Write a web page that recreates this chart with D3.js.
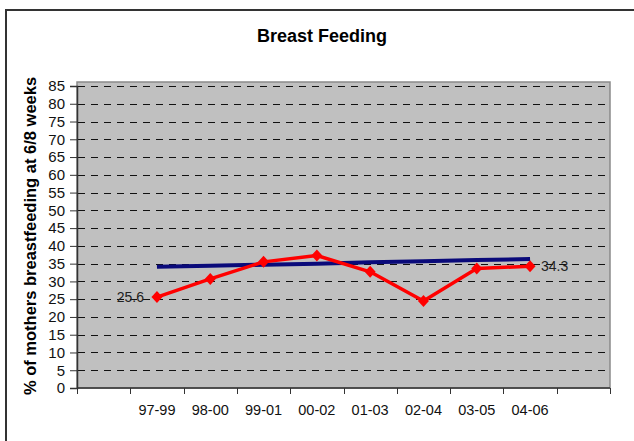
<!DOCTYPE html>
<html><head><meta charset="utf-8">
<script src="https://cdn.jsdelivr.net/npm/d3@7"></script>
<style>html,body{margin:0;padding:0;background:#fff;}svg{display:block;font-family:"Liberation Sans",Arial,sans-serif;}</style>
</head><body>
<script>
const categories = ["", "97-99", "98-00", "99-01", "00-02", "01-03", "02-04", "03-05", "04-06", ""];
const breastfeeding = [null, 25.6, 30.7, 35.5, 37.3, 32.7, 24.5, 33.6, 34.3, null];
const target = [null, 34.1, 34.4, 34.7, 35.0, 35.4, 35.7, 36.0, 36.3, null];
const yTicks = d3.range(0, 90, 5);
const title = "Breast Feeding";
const yTitle = "% of mothers breastfeeding at 6/8 weeks";
const labelIdx = [1, 8];

const W = 634, H = 441;
const svg = d3.select("body").append("svg").attr("width", W).attr("height", H);

// outer chart border
svg.append("rect").attr("x", 6).attr("y", 10).attr("width", W + 10).attr("height", H + 10)
  .attr("fill", "#fff").attr("stroke", "#333").attr("stroke-width", 2);

const x = d3.scaleBand().domain(d3.range(categories.length)).range([77, 610]);
const y = d3.scaleLinear().domain([0, 85]).range([388, 86]);

// plot area
svg.append("rect").attr("x", 77).attr("y", y(85) - 4).attr("width", 610 - 77).attr("height", 388 - (y(85) - 4))
  .attr("fill", "#c0c0c0").attr("stroke", "#8a8a8a").attr("stroke-width", 1.5);

// gridlines
svg.append("g").selectAll("line").data(yTicks.filter(d => d > 0)).join("line")
  .attr("x1", 78).attr("x2", 609).attr("y1", d => Math.round(y(d)) + 0.5).attr("y2", d => Math.round(y(d)) + 0.5)
  .attr("stroke", "#111").attr("stroke-width", 1).attr("stroke-dasharray", "7,6");

// y axis
const ya = svg.append("g").attr("transform", "translate(77,0)")
  .call(d3.axisLeft(y).tickValues(yTicks).tickSize(7).tickPadding(5).tickFormat(d3.format("d")));
ya.select(".domain").attr("stroke", "#333").attr("stroke-width", 1.5);
ya.selectAll(".tick line").attr("stroke", "#333");
ya.selectAll("text").attr("font-size", "15px").attr("fill", "#111").attr("font-family", "Liberation Sans, Arial, sans-serif");

// x axis
const xg = svg.append("g").attr("transform", "translate(0,388)");
xg.append("line").attr("x1", 77).attr("x2", 610).attr("stroke", "#333").attr("stroke-width", 1.5);
const bounds = d3.range(categories.length + 1).map(i => i < categories.length ? x(i) : x(categories.length - 1) + x.bandwidth());
xg.selectAll("line.tk").data(bounds).join("line").attr("class", "tk")
  .attr("x1", d => Math.round(d) + 0.5).attr("x2", d => Math.round(d) + 0.5).attr("y1", 0).attr("y2", 6)
  .attr("stroke", "#333").attr("stroke-width", 1);
xg.selectAll("text").data(categories).join("text")
  .attr("x", (d, i) => x(i) + x.bandwidth() / 2).attr("y", 27)
  .attr("text-anchor", "middle").attr("font-size", "14.5px").attr("fill", "#111").text(d => d);

// target line
const line = d3.line().defined(d => d[1] != null).x(d => x(d[0]) + x.bandwidth() / 2).y(d => y(d[1]));
svg.append("path").datum(target.map((v, i) => [i, v])).attr("d", line)
  .attr("fill", "none").attr("stroke", "#0a0a7a").attr("stroke-width", 4);

// breastfeeding line
svg.append("path").datum(breastfeeding.map((v, i) => [i, v])).attr("d", line)
  .attr("fill", "none").attr("stroke", "#ff0000").attr("stroke-width", 3.5).attr("stroke-linejoin", "round");

svg.append("g").selectAll("path").data(breastfeeding.map((v, i) => [i, v]).filter(d => d[1] != null)).join("path")
  .attr("transform", d => `translate(${x(d[0]) + x.bandwidth() / 2},${y(d[1])})`)
  .attr("d", "M0,-6L5.5,0L0,6L-5.5,0Z").attr("fill", "#ff0000");

// data labels
svg.append("g").selectAll("text").data(labelIdx).join("text")
  .attr("x", (i, k) => x(i) + x.bandwidth() / 2 + (k === 0 ? -13 : 11))
  .attr("y", i => y(breastfeeding[i]) + 5)
  .attr("text-anchor", (i, k) => k === 0 ? "end" : "start")
  .attr("font-size", "14px").attr("fill", "#222").text(i => breastfeeding[i]);

// title
svg.append("text").attr("x", 322).attr("y", 42).attr("text-anchor", "middle")
  .attr("font-size", "18px").attr("font-weight", "bold").attr("fill", "#000").text(title);

// y title
svg.append("text").attr("transform", "translate(36,236) rotate(-90)").attr("text-anchor", "middle")
  .attr("font-size", "16.5px").attr("font-weight", "bold").attr("fill", "#000").text(yTitle);
</script>
</body></html>
